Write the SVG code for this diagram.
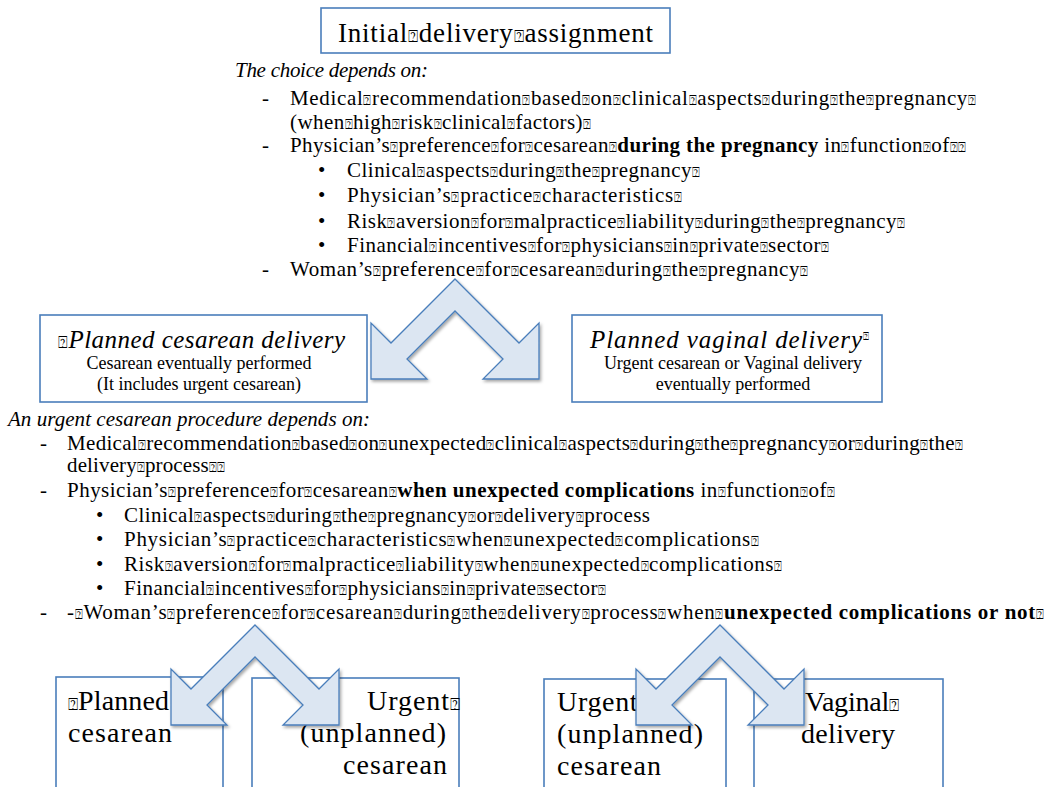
<svg xmlns="http://www.w3.org/2000/svg" width="1049" height="787" viewBox="0 0 1049 787">
<defs>
<filter id="sh" x="-20%" y="-20%" width="140%" height="140%">
<feDropShadow dx="1.5" dy="2" stdDeviation="1.8" flood-color="#000" flood-opacity="0.35"/>
</filter>
<style>
text{font-family:"Liberation Serif","DejaVu Serif",serif;fill:#000;}
.box{fill:#fff;stroke:#4A7EBB;stroke-width:1.6;}
.arrow{fill:#DCE6F2;stroke:#4A7EBB;stroke-width:1.3;stroke-linejoin:miter;filter:url(#sh);}
.b{font-size:21px;}
.it{font-style:italic;}
.bd{font-weight:bold;}
.big{font-size:28px;}
.sm{font-size:18px;}
.q{font-size:0.62em;font-style:normal;font-weight:normal;}
</style>
</defs>
<rect width="1049" height="787" fill="#fff"/>

<g id="node-initial">
<rect class="box" x="321" y="8" width="349" height="45"/>
<text x="338" y="42" font-size="27" textLength="315">Initial<tspan class="q">⍰</tspan>delivery<tspan class="q">⍰</tspan>assignment</text>
</g>

<g id="text-choice">
<text class="b it" x="235" y="77" textLength="193">The choice depends on:</text>
<text class="b" x="262" y="105">-</text>
<text class="b" x="290" y="105" textLength="686">Medical<tspan class="q">⍰</tspan>recommendation<tspan class="q">⍰</tspan>based<tspan class="q">⍰</tspan>on<tspan class="q">⍰</tspan>clinical<tspan class="q">⍰</tspan>aspects<tspan class="q">⍰</tspan>during<tspan class="q">⍰</tspan>the<tspan class="q">⍰</tspan>pregnancy<tspan class="q">⍰</tspan></text>
<text class="b" x="290" y="129" textLength="301">(when<tspan class="q">⍰</tspan>high<tspan class="q">⍰</tspan>risk<tspan class="q">⍰</tspan>clinical<tspan class="q">⍰</tspan>factors)<tspan class="q">⍰</tspan></text>
<text class="b" x="262" y="152">-</text>
<text class="b" x="290" y="152" textLength="676">Physician’s<tspan class="q">⍰</tspan>preference<tspan class="q">⍰</tspan>for<tspan class="q">⍰</tspan>cesarean<tspan class="q">⍰</tspan><tspan class="bd">during the pregnancy</tspan> in<tspan class="q">⍰</tspan>function<tspan class="q">⍰</tspan>of<tspan class="q">⍰⍰</tspan></text>
<text class="b" x="318" y="177">•</text>
<text class="b" x="347" y="177" textLength="353">Clinical<tspan class="q">⍰</tspan>aspects<tspan class="q">⍰</tspan>during<tspan class="q">⍰</tspan>the<tspan class="q">⍰</tspan>pregnancy<tspan class="q">⍰</tspan></text>
<text class="b" x="318" y="202">•</text>
<text class="b" x="347" y="202" textLength="335">Physician’s<tspan class="q">⍰</tspan>practice<tspan class="q">⍰</tspan>characteristics<tspan class="q">⍰</tspan></text>
<text class="b" x="318" y="228">•</text>
<text class="b" x="347" y="228" textLength="558">Risk<tspan class="q">⍰</tspan>aversion<tspan class="q">⍰</tspan>for<tspan class="q">⍰</tspan>malpractice<tspan class="q">⍰</tspan>liability<tspan class="q">⍰</tspan>during<tspan class="q">⍰</tspan>the<tspan class="q">⍰</tspan>pregnancy<tspan class="q">⍰</tspan></text>
<text class="b" x="318" y="252">•</text>
<text class="b" x="347" y="252" textLength="482">Financial<tspan class="q">⍰</tspan>incentives<tspan class="q">⍰</tspan>for<tspan class="q">⍰</tspan>physicians<tspan class="q">⍰</tspan>in<tspan class="q">⍰</tspan>private<tspan class="q">⍰</tspan>sector<tspan class="q">⍰</tspan></text>
<text class="b" x="262" y="276">-</text>
<text class="b" x="290" y="276" textLength="518">Woman’s<tspan class="q">⍰</tspan>preference<tspan class="q">⍰</tspan>for<tspan class="q">⍰</tspan>cesarean<tspan class="q">⍰</tspan>during<tspan class="q">⍰</tspan>the<tspan class="q">⍰</tspan>pregnancy<tspan class="q">⍰</tspan></text>
</g>

<g id="node-planned-cesarean">
<rect class="box" x="40" y="315" width="327" height="87"/>
<text class="it" x="58" y="348" font-size="25" textLength="287"><tspan class="q">⍰</tspan>Planned cesarean delivery</text>
<text class="sm" x="199" y="369" text-anchor="middle">Cesarean eventually performed</text>
<text class="sm" x="199" y="390" text-anchor="middle">(It includes urgent cesarean)</text>
</g>

<g id="node-planned-vaginal">
<rect class="box" x="572" y="315" width="310" height="87"/>
<text class="it" x="590" y="348" font-size="25" textLength="272">Planned vaginal delivery</text>
<text x="863" y="340" font-size="10">⍰</text>
<text class="sm" x="733" y="369" text-anchor="middle">Urgent cesarean or Vaginal delivery</text>
<text class="sm" x="733" y="390" text-anchor="middle">eventually performed</text>
</g>

<g id="text-urgent">
<text class="b it" x="8" y="426" textLength="362">An urgent cesarean procedure depends on:</text>
<text class="b" x="40" y="450">-</text>
<text class="b" x="67" y="450" textLength="896">Medical<tspan class="q">⍰</tspan>recommendation<tspan class="q">⍰</tspan>based<tspan class="q">⍰</tspan>on<tspan class="q">⍰</tspan>unexpected<tspan class="q">⍰</tspan>clinical<tspan class="q">⍰</tspan>aspects<tspan class="q">⍰</tspan>during<tspan class="q">⍰</tspan>the<tspan class="q">⍰</tspan>pregnancy<tspan class="q">⍰</tspan>or<tspan class="q">⍰</tspan>during<tspan class="q">⍰</tspan>the<tspan class="q">⍰</tspan></text>
<text class="b" x="67" y="472" textLength="158">delivery<tspan class="q">⍰</tspan>process<tspan class="q">⍰⍰</tspan></text>
<text class="b" x="40" y="497">-</text>
<text class="b" x="67" y="497" textLength="768">Physician’s<tspan class="q">⍰</tspan>preference<tspan class="q">⍰</tspan>for<tspan class="q">⍰</tspan>cesarean<tspan class="q">⍰</tspan><tspan class="bd">when unexpected complications</tspan> in<tspan class="q">⍰</tspan>function<tspan class="q">⍰</tspan>of<tspan class="q">⍰</tspan></text>
<text class="b" x="96" y="522">•</text>
<text class="b" x="124" y="522" textLength="526">Clinical<tspan class="q">⍰</tspan>aspects<tspan class="q">⍰</tspan>during<tspan class="q">⍰</tspan>the<tspan class="q">⍰</tspan>pregnancy<tspan class="q">⍰</tspan>or<tspan class="q">⍰</tspan>delivery<tspan class="q">⍰</tspan>process</text>
<text class="b" x="96" y="546">•</text>
<text class="b" x="124" y="546" textLength="635">Physician’s<tspan class="q">⍰</tspan>practice<tspan class="q">⍰</tspan>characteristics<tspan class="q">⍰</tspan>when<tspan class="q">⍰</tspan>unexpected<tspan class="q">⍰</tspan>complications<tspan class="q">⍰</tspan></text>
<text class="b" x="96" y="571">•</text>
<text class="b" x="124" y="571" textLength="658">Risk<tspan class="q">⍰</tspan>aversion<tspan class="q">⍰</tspan>for<tspan class="q">⍰</tspan>malpractice<tspan class="q">⍰</tspan>liability<tspan class="q">⍰</tspan>when<tspan class="q">⍰</tspan>unexpected<tspan class="q">⍰</tspan>complications<tspan class="q">⍰</tspan></text>
<text class="b" x="96" y="595">•</text>
<text class="b" x="124" y="595" textLength="482">Financial<tspan class="q">⍰</tspan>incentives<tspan class="q">⍰</tspan>for<tspan class="q">⍰</tspan>physicians<tspan class="q">⍰</tspan>in<tspan class="q">⍰</tspan>private<tspan class="q">⍰</tspan>sector<tspan class="q">⍰</tspan></text>
<text class="b" x="40" y="619">-</text>
<text class="b" x="67" y="619" textLength="977">-<tspan class="q">⍰</tspan>Woman’s<tspan class="q">⍰</tspan>preference<tspan class="q">⍰</tspan>for<tspan class="q">⍰</tspan>cesarean<tspan class="q">⍰</tspan>during<tspan class="q">⍰</tspan>the<tspan class="q">⍰</tspan>delivery<tspan class="q">⍰</tspan>process<tspan class="q">⍰</tspan>when<tspan class="q">⍰</tspan><tspan class="bd">unexpected complications or not</tspan><tspan class="q">⍰</tspan></text>
</g>

<g id="node-planned">
<rect class="box" x="56" y="677" width="167" height="130"/>
<text class="big" x="68" y="710" textLength="101"><tspan class="q">⍰</tspan>Planned</text>
<text class="big" x="68" y="742" textLength="104">cesarean</text>
</g>

<g id="node-urgent-1">
<rect class="box" x="252" y="678" width="207" height="130"/>
<text class="big" x="367" y="710" textLength="93">Urgent<tspan class="q">⍰</tspan></text>
<text class="big" x="300" y="742" textLength="146">(unplanned)</text>
<text class="big" x="343" y="774" textLength="104">cesarean</text>
</g>

<g id="node-urgent-2">
<rect class="box" x="544" y="679" width="182" height="130"/>
<text class="big" x="557" y="711" textLength="102">Urgent<tspan class="q">⍰⍰</tspan></text>
<text class="big" x="557" y="743" textLength="146">(unplanned)</text>
<text class="big" x="557" y="775" textLength="104">cesarean</text>
</g>

<g id="node-vaginal">
<rect class="box" x="754" y="679" width="189" height="130"/>
<text class="big" x="805" y="711" textLength="94">Vaginal<tspan class="q">⍰</tspan></text>
<text class="big" x="801" y="743" textLength="94">delivery</text>
</g>

<g id="connectors">
<path class="arrow" d="M455,279 L519,343 L539,323 L539,379 L483,379 L503,359 L455,311 L407,359 L427,379 L371,379 L371,323 L391,343 Z"/>
<path class="arrow" d="M255,625 L319,689 L339,669 L339,725 L283,725 L303,705 L255,657 L207,705 L227,725 L171,725 L171,669 L191,689 Z"/>
<path class="arrow" d="M720,625 L784,689 L804,669 L804,725 L748,725 L768,705 L720,657 L672,705 L692,725 L636,725 L636,669 L656,689 Z"/>
</g>
</svg>
